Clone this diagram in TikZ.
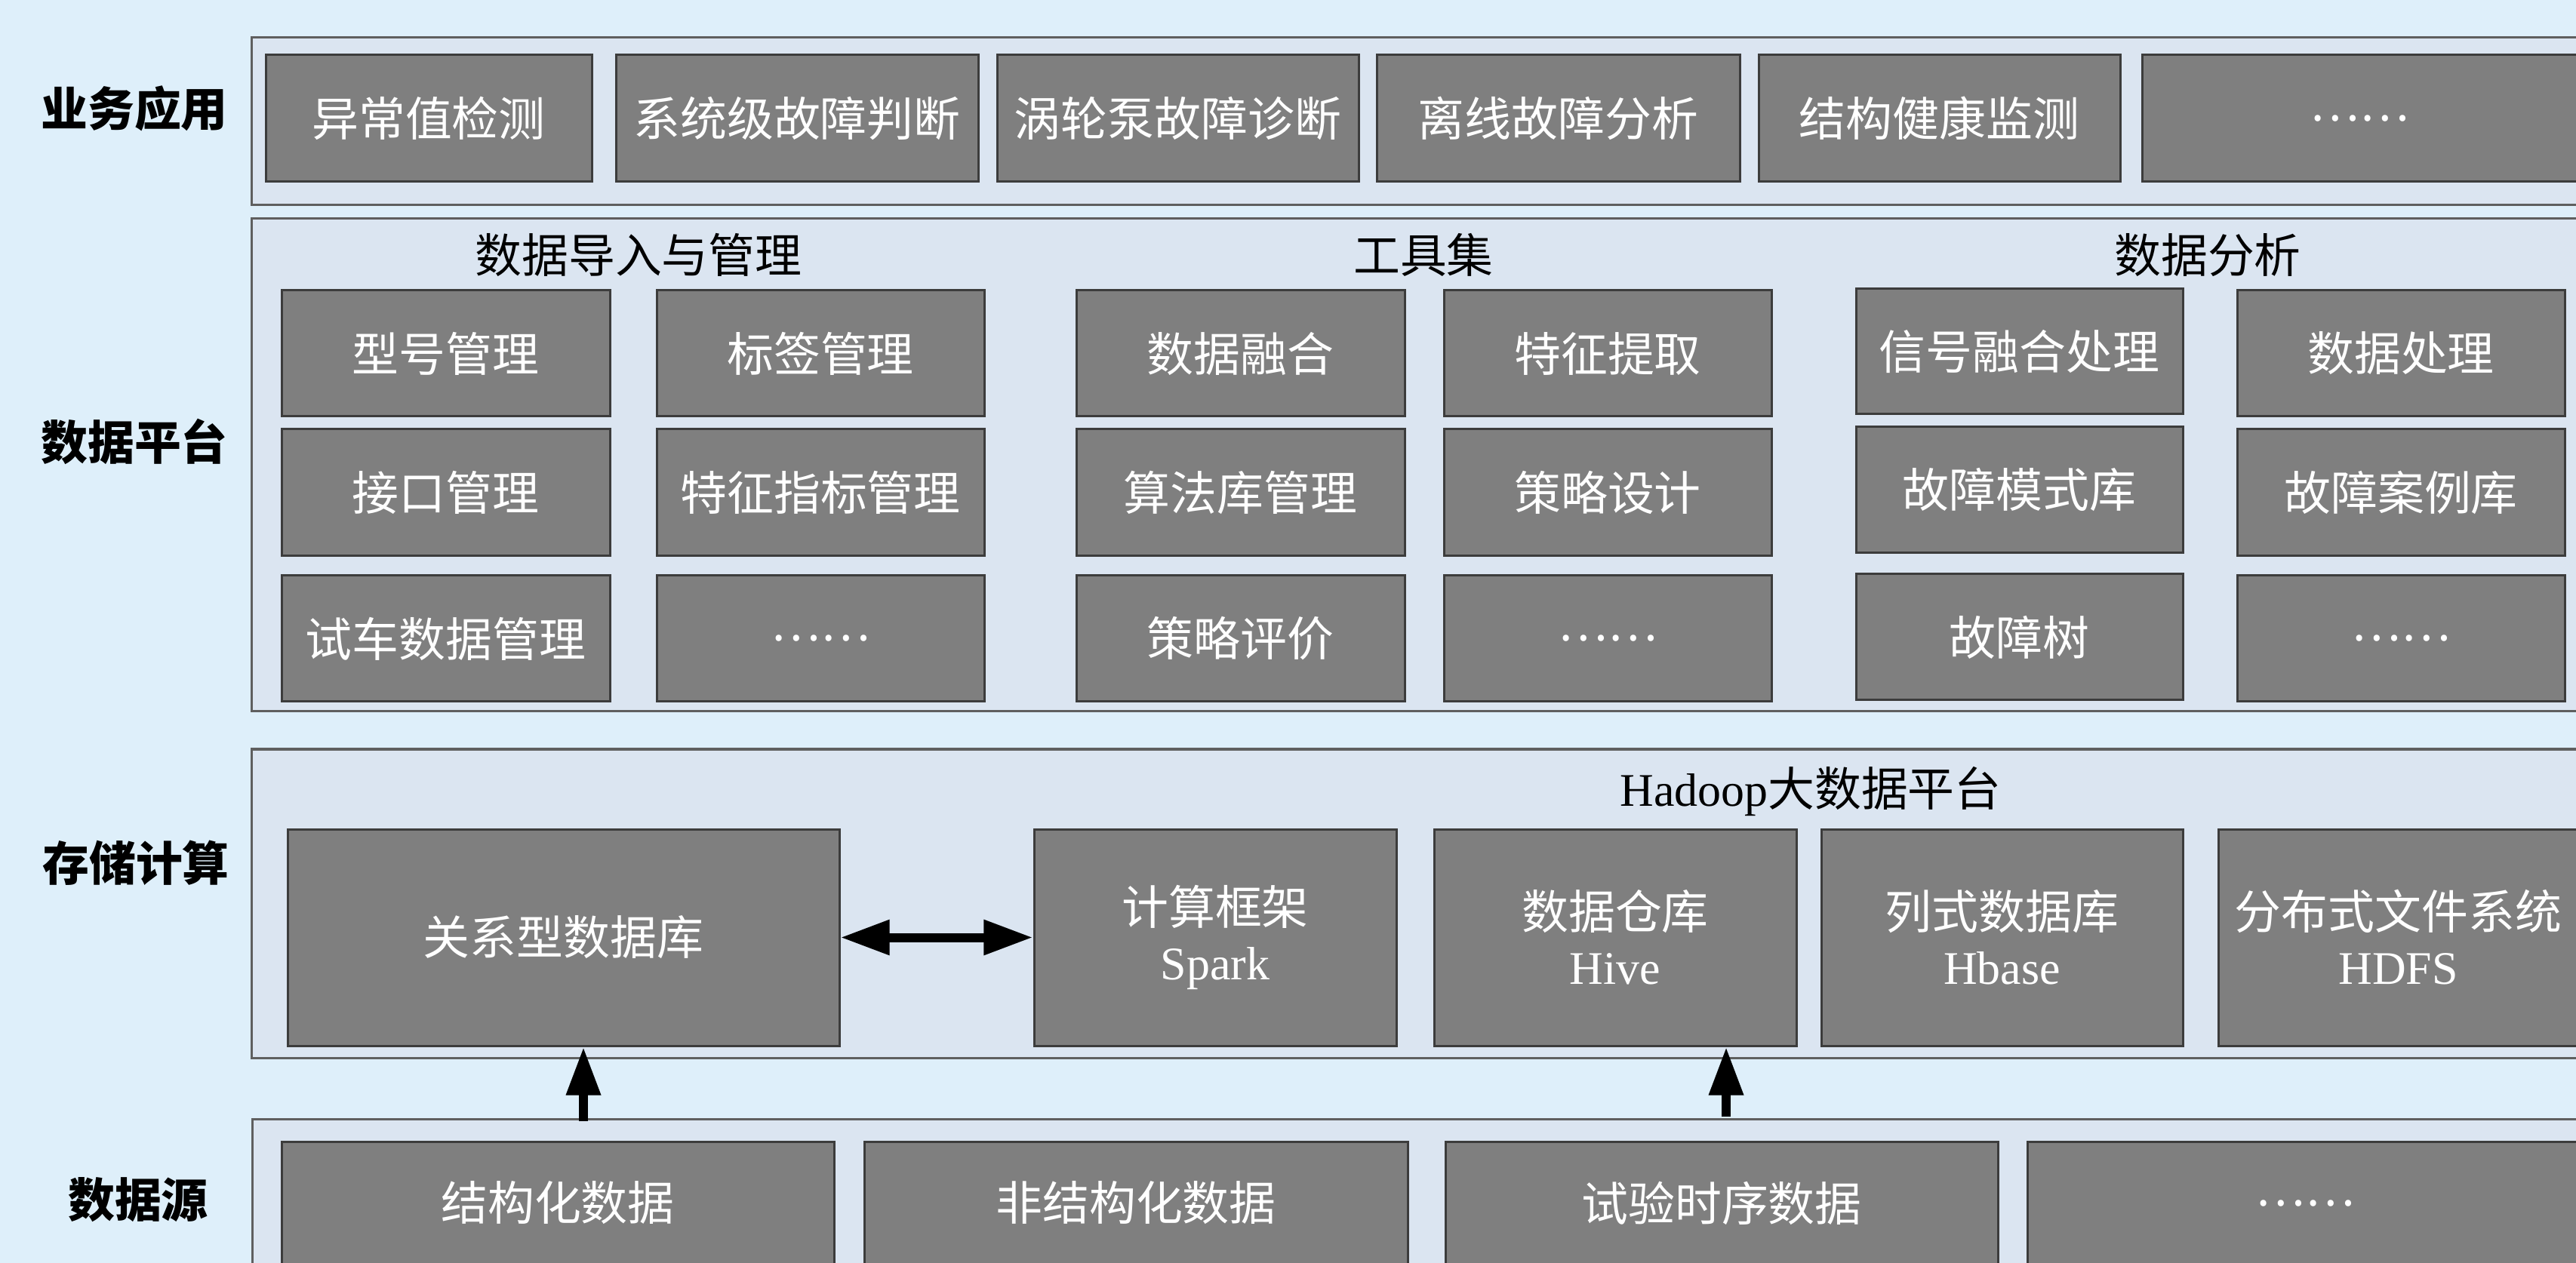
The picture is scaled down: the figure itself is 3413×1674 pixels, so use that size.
\documentclass[tikz,border=0pt]{standalone}
\usepackage{fontspec}
\setmainfont{Noto Sans CJK SC}
\newfontfamily\latser{Liberation Serif}
\usetikzlibrary{arrows.meta}
\definecolor{pagebg}{RGB}{222,239,250}
\definecolor{framebg}{RGB}{219,229,241}
\definecolor{frameln}{RGB}{95,95,95}
\definecolor{boxbg}{RGB}{127,127,127}
\definecolor{boxln}{RGB}{60,60,60}
\newcommand\pbox[7]{\node[#1, minimum width={(#5-#3)*0.01cm}, minimum height={(#6-#4)*0.01cm}] (#2) at ({(#3+#5)/2},{(#4+#6)/2}) {#7};}
\begin{document}
\begin{tikzpicture}[x=0.01cm,y=-0.01cm,
  layer/.style={draw=frameln, fill=framebg, line width=0.03cm, inner sep=0pt},
  gbox/.style={draw=boxln, fill=boxbg, line width=0.03cm, inner sep=0pt, text=white, align=center,
    font=\fontsize{17.6}{20.8}\selectfont},
  sidelabel/.style={font=\fontsize{17.6}{20.8}\selectfont\bfseries, text=black, inner sep=0pt},
  grouptitle/.style={font=\fontsize{17.6}{20.8}\selectfont, text=black, inner sep=0pt},
  arr/.style={line width=0.125cm, -{Triangle[length=0.64cm,width=0.43cm]}},
  darr/.style={line width=0.12cm, {Triangle[length=0.65cm,width=0.44cm]}-{Triangle[length=0.65cm,width=0.44cm]}}
]
\useasboundingbox (0,0) rectangle (3413,1674);
\fill[pagebg] (0,0) rectangle (3413,1674);
\clip (0,0) rectangle (3413,1674);

% layer frames
\pbox{layer}{L1}{333}{50}{3500}{272}{}
\pbox{layer}{L2}{333}{290}{3500}{943}{}
\pbox{layer}{L3}{333}{993}{3500}{1402}{}
\pbox{layer}{L4}{334}{1483}{3500}{1800}{}

% side labels
\node[sidelabel] (s1) at (178,144) {业务应用};
\node[sidelabel] (s2) at (178,585) {数据平台};
\node[sidelabel] (s3) at (180,1144) {存储计算};
\node[sidelabel] (s4) at (183,1590) {数据源};

% layer 1
\pbox{gbox}{a1}{352}{73}{784}{241}{异常值检测}
\pbox{gbox}{a2}{816}{73}{1296}{241}{系统级故障判断}
\pbox{gbox}{a3}{1321}{73}{1800}{241}{涡轮泵故障诊断}
\pbox{gbox}{a4}{1824}{73}{2305}{241}{离线故障分析}
\pbox{gbox}{a5}{2330}{73}{2809}{241}{结构健康监测}
\pbox{gbox}{a6}{2838}{73}{3414}{241}{……}

% layer 2 titles
\node[grouptitle] (t1) at (846,338) {数据导入与管理};
\node[grouptitle] (t2) at (1886,338) {工具集};
\node[grouptitle] (t3) at (2925,338) {数据分析};

% layer 2 boxes
\pbox{gbox}{b11}{373}{385}{808}{552}{型号管理}
\pbox{gbox}{b12}{870}{385}{1304}{552}{标签管理}
\pbox{gbox}{b13}{1426}{385}{1861}{552}{数据融合}
\pbox{gbox}{b14}{1913}{385}{2347}{552}{特征提取}
\pbox{gbox}{b15}{2459}{383}{2892}{549}{信号融合处理}
\pbox{gbox}{b16}{2964}{385}{3398}{552}{数据处理}

\pbox{gbox}{b21}{373}{569}{808}{737}{接口管理}
\pbox{gbox}{b22}{870}{569}{1304}{737}{特征指标管理}
\pbox{gbox}{b23}{1426}{569}{1861}{737}{算法库管理}
\pbox{gbox}{b24}{1913}{569}{2347}{737}{策略设计}
\pbox{gbox}{b25}{2459}{566}{2892}{733}{故障模式库}
\pbox{gbox}{b26}{2964}{569}{3398}{737}{故障案例库}

\pbox{gbox}{b31}{373}{763}{808}{930}{试车数据管理}
\pbox{gbox}{b32}{870}{763}{1304}{930}{……}
\pbox{gbox}{b33}{1426}{763}{1861}{930}{策略评价}
\pbox{gbox}{b34}{1913}{763}{2347}{930}{……}
\pbox{gbox}{b35}{2459}{761}{2892}{928}{故障树}
\pbox{gbox}{b36}{2964}{763}{3398}{930}{……}

% layer 3
\node[grouptitle] (t4) at (2399,1049) {{\latser Hadoop}大数据平台};
\pbox{gbox}{rdb}{381}{1099}{1112}{1386}{关系型数据库}
\pbox{gbox}{spark}{1370}{1099}{1850}{1386}{计算框架\\{\latser Spark}}
\pbox{gbox}{hive}{1900}{1099}{2380}{1386}{数据仓库\\{\latser Hive}}
\pbox{gbox}{hbase}{2413}{1099}{2892}{1386}{列式数据库\\{\latser Hbase}}
\pbox{gbox}{hdfs}{2939}{1099}{3416}{1386}{分布式文件系统\\{\latser HDFS}}

% layer 4
\pbox{gbox}{d1}{373}{1513}{1105}{1676}{结构化数据}
\pbox{gbox}{d2}{1145}{1513}{1865}{1676}{非结构化数据}
\pbox{gbox}{d3}{1915}{1513}{2647}{1676}{试验时序数据}
\pbox{gbox}{d4}{2686}{1513}{3422}{1676}{……}

% connectors
\draw[darr] (rdb.east) -- (spark.west);
\coordinate (p1) at (773,1486);
\coordinate (p2) at (2287,1480);
\draw[arr] (p1) -- (p1 |- rdb.south);
\draw[arr] (p2) -- (p2 |- hive.south);
\end{tikzpicture}
\end{document}
